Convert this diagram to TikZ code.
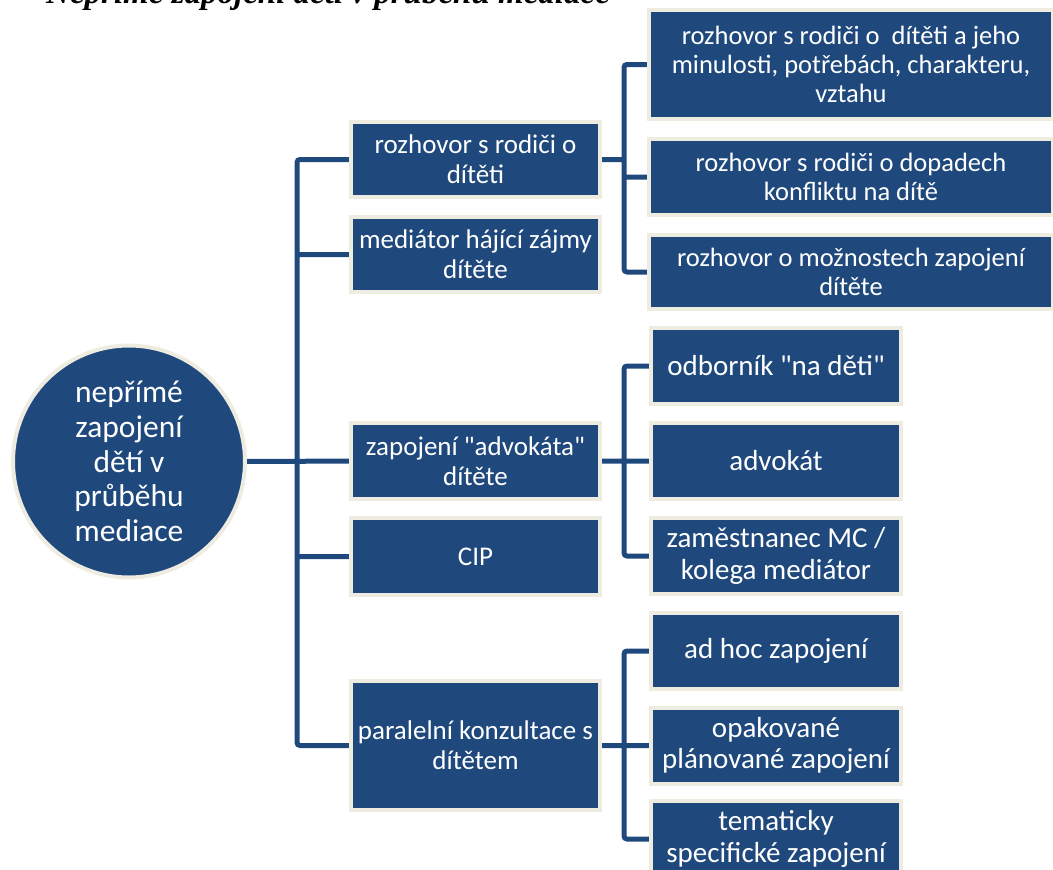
\documentclass[tikz,border=0pt]{standalone}
\usepackage{fontspec}
\setmainfont{Carlito}
\newfontfamily\titlefont{Liberation Serif}
\usetikzlibrary{positioning,backgrounds}
\definecolor{navy}{RGB}{31,73,125}
\definecolor{cream}{RGB}{238,236,225}

\begin{document}
\begin{tikzpicture}[x=1pt,y=-1pt,node distance=300.5pt,on grid,
   box/.style={draw=cream,line width=4pt,fill=navy,text=white,align=center,inner sep=0pt,
     minimum width=249pt,minimum height=75pt,font=\fontsize{27}{29.6}\selectfont},
   wide/.style={box,minimum width=404pt,font=\fontsize{26.5}{29.1}\selectfont},
   sub/.style={box,minimum width=250pt,minimum height=76pt,font=\fontsize{29}{31.8}\selectfont},
   root/.style={circle,draw=cream,line width=4pt,fill=navy,text=white,align=center,
     inner sep=0pt,minimum size=232pt,font=\fontsize{31.5}{34.6}\selectfont},
   link/.style={draw=navy,line width=5pt,rounded corners=3pt}]
   \useasboundingbox (0,0) rectangle (1053,870);
   \node[anchor=base west,font=\titlefont\bfseries\itshape\fontsize{33}{36}\selectfont,
     inner sep=0pt] (title) at (46,4) {Nepřímé zapojení dětí v průběhu mediace};
   \node[root] (neprime) at (129,461.5) {nepřímé\\zapojení\\dětí v\\průběhu\\mediace};
   \node[box] (rozhovor) at (475.5,159.5) {rozhovor s rodiči o\\dítěti};
   \node[box] (hajici) at (475.5,254.5) {mediátor hájící zájmy\\dítěte};
   \node[box,minimum height=76pt] (advokat) at (475.5,461) {zapojení \textquotedbl advokáta\textquotedbl\\dítěte};
   \node[box,minimum height=77pt] (cip) at (475.5,556.5) {CIP};
   \node[box,minimum height=129pt] (paralelni) at (475.5,745.5) {paralelní konzultace s\\dítětem};
   \node[wide,minimum height=76pt] (dopady) at (851,177) {rozhovor s rodiči o dopadech\\konfliktu na dítě};
   \node[wide,minimum height=109pt] (minulost) [above=112.5pt of dopady] {rozhovor s rodiči o \ dítěti a jeho\\minulosti, potřebách, charakteru,\\vztahu};
   \node[wide,minimum height=74pt] (moznosti) [below=95pt of dopady] {rozhovor o možnostech zapojení\\dítěte};
   \node[sub] (advokat2) [right=of advokat] {advokát};
   \node[sub] (odbornik) [above=95pt of advokat2] {odborník \textquotedbl na děti\textquotedbl};
   \node[sub] (zamestnanec) [below=95pt of advokat2] {zaměstnanec MC /\\kolega mediátor};
   \node[sub] (opakovane) [right=of paralelni] {opakované\\plánované zapojení};
   \node[sub] (adhoc) [above=94.5pt of opakovane] {ad hoc zapojení};
   \node[sub] (tematicky) [below=93.5pt of opakovane] {tematicky\\specifické zapojení};
   \coordinate (trunk) at (297,0);
   \coordinate (trunkR) at (624,0);
   \begin{scope}[on background layer]
    \path[link]
    (neprime) -- (advokat)
    (rozhovor.west) -- (rozhovor.west -| trunk) |- (paralelni.west)
    (hajici.west) -- (hajici.west -| trunk)
    (cip.west) -- (cip.west -| trunk)
    (rozhovor.east) -- (rozhovor.east -| trunkR)
    (minulost.west) -- (minulost.west -| trunkR) |- (moznosti.west)
    (dopady.west) -- (dopady.west -| trunkR)
    (advokat) -- (advokat2)
    (odbornik.west) -- (odbornik.west -| trunkR) |- (zamestnanec.west)
    (paralelni) -- (opakovane)
    (adhoc.west) -- (adhoc.west -| trunkR) |- (tematicky.west);
   \end{scope}
\end{tikzpicture}
\end{document}
